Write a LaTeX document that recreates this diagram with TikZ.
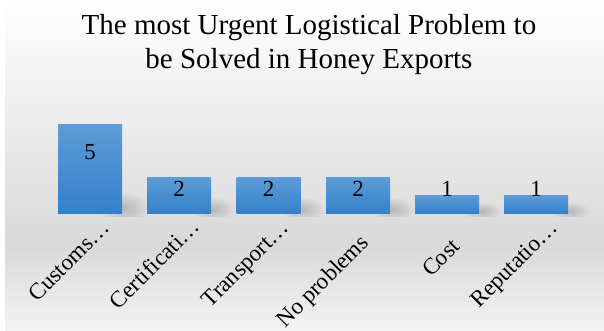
\documentclass[tikz,border=0pt]{standalone}
\usepackage{fontspec}
\setmainfont{Liberation Serif}
\usetikzlibrary{fadings}
\definecolor{barTop}{HTML}{5C9CD7}
\definecolor{barBot}{HTML}{3380C9}
\definecolor{bgMid}{HTML}{D9D9D9}
\definecolor{bgLow}{HTML}{F3F3F3}
\tikzfading[name=softspot, inner color=transparent!0, outer color=transparent!100]

\begin{document}
\begin{tikzpicture}[x=1pt, y=1pt,
    bar/.style={inner sep=0pt, minimum width=64pt, anchor=south, top color=barTop, bottom color=barBot},
    blob/.style={black, opacity=.18, path fading=softspot},
    num/.style={anchor=base, inner sep=0pt, font=\fontsize{23}{23}\selectfont},
    cat/.style={anchor=base east, rotate=45, inner sep=0pt, font=\fontsize{23}{23}\selectfont}]
    \useasboundingbox (0,0) rectangle (604,-331);
    \shade[top color=white, bottom color=bgMid] (5,0) rectangle (604,-245);
    \shade[top color=bgMid, bottom color=bgLow] (5,-245) rectangle (604,-331);

    \node[align=center, inner sep=0pt, font=\fontsize{29}{34}\selectfont] (title) at (309,-45)
        {The most Urgent Logistical Problem to\\be Solved in Honey Exports};

    \begin{scope}
        \clip (5,-120) rectangle (604,-216);
        \fill[blob] (124,-208) ellipse (26 and 16);
        \fill[blob] (213,-209) ellipse (22 and 12);
        \fill[blob] (302.5,-209) ellipse (22 and 12);
        \fill[blob] (392,-209) ellipse (22 and 12);
        \fill[blob] (481,-211) ellipse (20 and 9);
        \fill[blob] (570,-211) ellipse (20 and 9);
    \end{scope}

    \node[bar, minimum height=89pt] (customs) at (90,-214) {};
    \node[bar, minimum height=36pt] (certif) at (179,-214) {};
    \node[bar, minimum height=36pt] (transport) at (268.5,-214) {};
    \node[bar, minimum height=36pt] (noprob) at (358,-214) {};
    \node[bar, minimum height=18pt] (cost) at (447,-214) {};
    \node[bar, minimum height=18pt] (reput) at (536,-214) {};

    \node[num] (v1) at (90,-160) {5};
    \node[num] (v2) at (179,-196) {2};
    \node[num] (v3) at (268.5,-196) {2};
    \node[num] (v4) at (358,-196) {2};
    \node[num] (v5) at (447,-196) {1};
    \node[num] (v6) at (536,-196) {1};

    \node[cat] (l1) at (111,-229) {Customs…};
    \node[cat] (l2) at (201,-228) {Certificati…};
    \node[cat] (l3) at (290,-229) {Transport…};
    \node[cat] (l4) at (370,-244) {No problems};
    \node[cat] (l5) at (461,-248) {Cost};
    \node[cat] (l6) at (559,-229) {Reputatio…};
\end{tikzpicture}
\end{document}
